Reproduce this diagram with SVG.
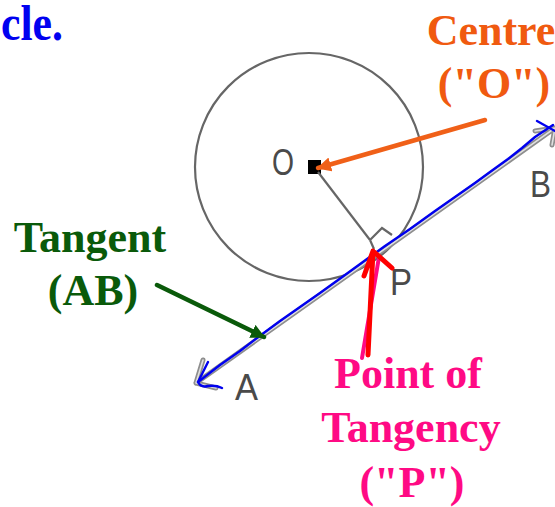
<svg xmlns="http://www.w3.org/2000/svg" width="555" height="507" viewBox="0 0 555 507">
<defs>
<style>
.lbl{font-family:"Liberation Serif","Times New Roman",serif;font-weight:bold;font-size:44px;text-anchor:middle}
.pt{font-family:"Liberation Sans",Arial,sans-serif;font-size:37px;fill:#4a4a4a}
.geo{fill:none;stroke:#666666;stroke-width:2.2}
.tan-o{fill:none;stroke:#8e8e8e;stroke-width:5;stroke-linecap:round;stroke-linejoin:round}
.tan-i{fill:none;stroke:#e0e0e0;stroke-width:1.6;stroke-linecap:round;stroke-linejoin:round}
.blue{fill:none;stroke:#0000ee;stroke-width:2.4;stroke-linecap:round;stroke-linejoin:round}
</style>
<marker id="mOrange" viewBox="0 0 10 10" refX="9" refY="5" markerWidth="3.2" markerHeight="3.2" orient="auto" markerUnits="strokeWidth"><path d="M0,0 L10,5 L0,10 z" fill="#f06018"/></marker>
<marker id="mGreen" viewBox="0 0 10 10" refX="9" refY="5" markerWidth="3.2" markerHeight="3.2" orient="auto" markerUnits="strokeWidth"><path d="M0,0 L10,5 L0,10 z" fill="#0a5a0a"/></marker>
</defs>
<rect width="555" height="507" fill="#ffffff"/>

<g id="title"><text class="lbl" x="1" y="40" style="font-size:50px;text-anchor:start" fill="#0000f0" textLength="62" lengthAdjust="spacingAndGlyphs">cle.</text></g>

<g id="circle">
<circle class="geo" cx="309" cy="167" r="114"/>
<text class="pt" x="272" y="175" textLength="22" lengthAdjust="spacingAndGlyphs">O</text>
<rect x="308" y="160" width="13" height="14" fill="#000"/>
</g>

<g id="radius">
<path class="geo" d="M318,172 L370,240"/>
<path class="geo" d="M370,240 L382,228 L392,235 M370,240 L374,249"/>
</g>

<g id="tangent">
<path class="tan-o" d="M196,383 L555,128 M196,383 L203,360 M196,383 L216,388 M555,128 L535,131 M555,128 L552,145"/>
<path class="tan-i" d="M196,383 L555,128 M196,383 L203,360 M196,383 L216,388 M555,128 L535,131 M555,128 L552,145"/>
<path class="blue" d="M198,382 L220,365 L240,351 L257,338 L280,321 L300,307 L320,293 L345,275 L367,259 L385,246 L410,229 L435,211 L455,197 L475,183 L490,172 L508,159 L522,148 L535,137 L553,125"/>
<path class="blue" d="M208,362 Q203,372 198,382 Q201,388 208,386 Q216,385 222,388 M537,121 L555,131"/>
<text class="pt" x="235" y="400" textLength="23" lengthAdjust="spacingAndGlyphs">A</text>
<text class="pt" x="530" y="197" textLength="21" lengthAdjust="spacingAndGlyphs">B</text>
</g>

<g id="pointP">
<text class="pt" x="390" y="295" textLength="22" lengthAdjust="spacingAndGlyphs">P</text>
</g>

<g id="label-centre">
<text class="lbl" x="491" y="45" fill="#f05a10">Centre</text>
<text class="lbl" x="494" y="98" fill="#f05a10">("O")</text>
</g>

<g id="label-tangent">
<text class="lbl" x="90" y="252" fill="#0a5a0a">Tangent</text>
<text class="lbl" x="93" y="305" fill="#0a5a0a">(AB)</text>
</g>

<g id="label-point">
<text class="lbl" x="408" y="388" fill="#ff0a84">Point of</text>
<text class="lbl" x="411" y="442" fill="#ff0a84">Tangency</text>
<text class="lbl" x="412" y="497" fill="#ff0a84">("P")</text>
</g>

<g id="connectors">
<path d="M485,120 L318,168" fill="none" stroke="#f06018" stroke-width="4.5" stroke-linecap="round" marker-end="url(#mOrange)"/>
<path d="M157,285 L264,337" fill="none" stroke="#0a5a0a" stroke-width="4.5" stroke-linecap="round" marker-end="url(#mGreen)"/>
<path d="M362,358 L379,257" fill="none" stroke="#ff0a84" stroke-width="4" stroke-linecap="round"/>
<path d="M368,355 L373,251 M364,276 L373,251 L392,268" fill="none" stroke="#ff0000" stroke-width="5" stroke-linecap="round" stroke-linejoin="round"/>
</g>
</svg>
